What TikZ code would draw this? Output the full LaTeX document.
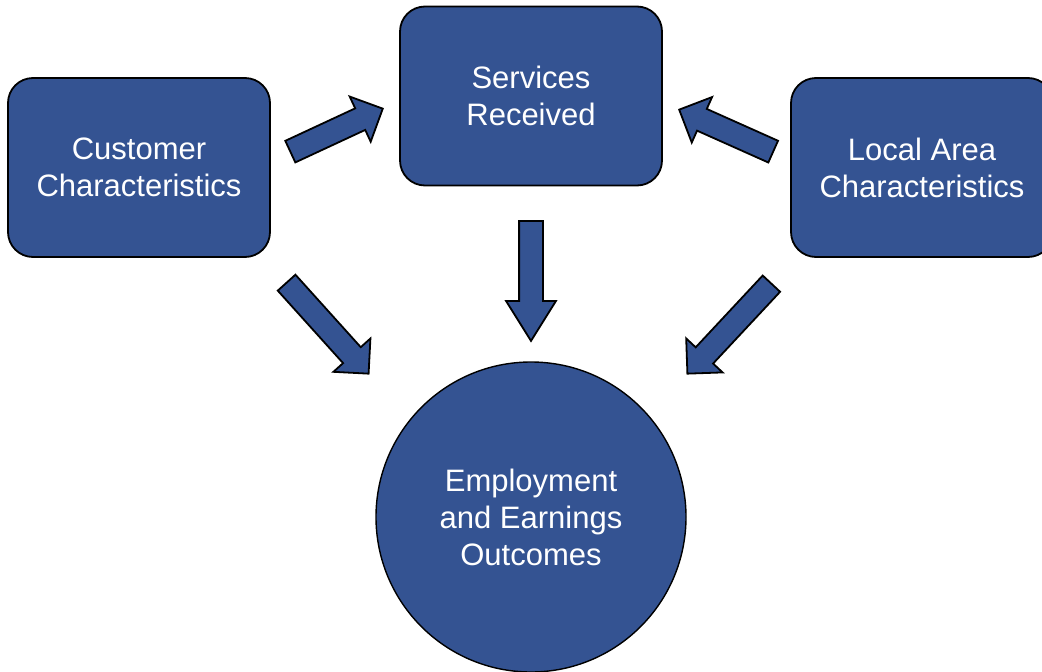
\documentclass[tikz,border=0pt]{standalone}
\usepackage{fontspec}
\setmainfont{Liberation Sans}
\usetikzlibrary{shapes.arrows,calc}
\definecolor{boxblue}{RGB}{52,83,146}
\begin{document}
\begin{tikzpicture}[x=1pt,y=-1pt,
	box/.style={rectangle,rounded corners=25pt,draw=black,line width=1.8pt,fill=boxblue,text=white,
		minimum width=262pt,minimum height=179pt,align=center,font=\fontsize{31}{37}\selectfont},
	outcome/.style={circle,draw=black,line width=1.4pt,fill=boxblue,text=white,
		minimum size=310pt,align=center,font=\fontsize{31}{37}\selectfont},
	blockarrow/.style={single arrow,draw=black,line width=1.8pt,fill=boxblue,inner xsep=0pt,inner ysep=11pt,
		single arrow head extend=13pt,single arrow tip angle=#1}]
  \useasboundingbox (0,0) rectangle (1042,672);

\node[box] (cust) at (139,167.5) {Customer\\Characteristics};
\node[box] (serv) at (531,96) {Services\\Received};
\node[box] (local) at (922,167.5) {Local Area\\Characteristics};
\node[outcome] (emp) at (531,517) {Employment\\and Earnings\\Outcomes};

% ends of the block arrows
\coordinate (cs-tail) at (289.5,152); \coordinate (cs-tip) at (382,109);
\coordinate (ls-tail) at (774,152);   \coordinate (ls-tip) at (680,110);
\coordinate (se-tail) at (531,220);   \coordinate (se-tip) at (531,340);
\coordinate (ce-tail) at (286,282);   \coordinate (ce-tip) at (368,373);
\coordinate (le-tail) at (772,283);   \coordinate (le-tip) at (688,373);

\foreach \from/\to/\ang in {cs-tail/cs-tip/90, ls-tail/ls-tip/90, se-tail/se-tip/64, ce-tail/ce-tip/90, le-tail/le-tip/90}
  \path let \p1=($(\to)-(\from)$), \n1={atan2(\y1,\x1)}, \n2={veclen(\x1,\y1)} in
    node[blockarrow=\ang,minimum height=\n2,rotate=\n1,anchor=tail] at (\from) {};
\end{tikzpicture}
\end{document}
